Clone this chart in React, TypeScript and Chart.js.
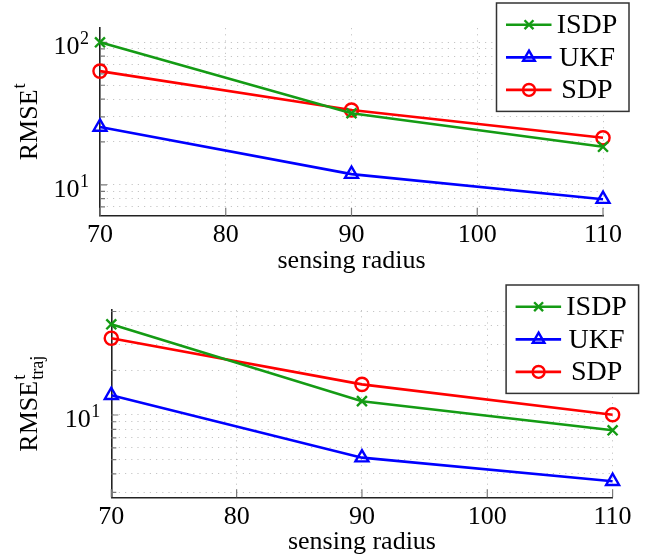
import React, { useEffect, useRef } from 'react';
import { Chart, registerables } from 'chart.js';

Chart.register(...registerables);

// ---------------- data ----------------
const radii = [70, 90, 110];
const xTicks = [70, 80, 90, 100, 110];
const seriesNames = ['ISDP', 'UKF', 'SDP'];

const rmseISDP = [100, 31.8, 18.5];
const rmseUKF = [25.5, 11.9, 7.94];
const rmseSDP = [62.8, 33.5, 21.4];

const trajISDP = [41.0, 12.4, 7.88];
const trajUKF = [13.6, 5.15, 3.57];
const trajSDP = [33.0, 16.1, 10.05];

const rmseYTicks = [7, 8, 9, 10, 20, 30, 40, 50, 60, 70, 80, 90, 100];
const trajYTicks = [3, 4, 5, 6, 7, 8, 9, 10, 20, 30, 40, 50];
const rmseYRange = [6.08, 126];
const trajYRange = [2.78, 51.2];

// ---------------- styles ----------------
const FONT = "'Liberation Serif', 'Times New Roman', Times, serif";
const COLORS = ['rgb(20,155,20)', 'rgb(0,0,255)', 'rgb(255,0,0)'];
const MARKERS = ['crossRot', 'triangle', 'circle'];
const MARKER_R = [7, 7.5, 6.6];
const GRID = 'rgba(150,150,150,0.55)';

type PanelCfg = {
  top: number;
  height: number;
  yAxisWidth: number;
  padTop: number;
  padRight: number;
  xAxisHeight: number;
  titlePadBottom: number;
  yTitleX: number;
  ySub: string;
  series: number[][];
  yTicks: number[];
  yRange: number[];
};

const panels: PanelCfg[] = [
  {
    top: 0, height: 279, yAxisWidth: 100, padTop: 28, padRight: 43, xAxisHeight: 63.3,
    titlePadBottom: 2, yTitleX: 36.5, ySub: '',
    series: [rmseISDP, rmseUKF, rmseSDP], yTicks: rmseYTicks, yRange: rmseYRange,
  },
  {
    top: 279, height: 279, yAxisWidth: 111.3, padTop: 31, padRight: 33.4, xAxisHeight: 60.7,
    titlePadBottom: 0, yTitleX: 36.5, ySub: 'traj',
    series: [trajISDP, trajUKF, trajSDP], yTicks: trajYTicks, yRange: trajYRange,
  },
];

function isDecade(v: number) {
  const l = Math.log10(v);
  return Math.abs(l - Math.round(l)) < 1e-9;
}

function drawMarker(ctx: CanvasRenderingContext2D, style: string, x: number, y: number, r: number) {
  ctx.beginPath();
  if (style === 'crossRot') {
    const o = Math.cos(Math.PI / 4) * r;
    ctx.moveTo(x - o, y - o); ctx.lineTo(x + o, y + o);
    ctx.moveTo(x + o, y - o); ctx.lineTo(x - o, y + o);
    ctx.stroke();
  } else if (style === 'triangle') {
    let rad = 0;
    ctx.moveTo(x + Math.sin(rad) * r, y - Math.cos(rad) * r);
    rad += (2 * Math.PI) / 3;
    ctx.lineTo(x + Math.sin(rad) * r, y - Math.cos(rad) * r);
    rad += (2 * Math.PI) / 3;
    ctx.lineTo(x + Math.sin(rad) * r, y - Math.cos(rad) * r);
    ctx.closePath();
    ctx.stroke();
  } else {
    ctx.arc(x, y, r, 0, Math.PI * 2);
    ctx.stroke();
  }
}

function buildConfig(p: PanelCfg): any {
  const datasets = seriesNames.map((name, i) => ({
    label: name,
    data: radii.map((x, j) => ({ x, y: p.series[i][j] })),
    borderColor: COLORS[i],
    backgroundColor: 'rgba(0,0,0,0)',
    borderWidth: 2.6,
    pointStyle: MARKERS[i],
    pointRadius: MARKER_R[i],
    pointBorderWidth: 2.4,
    pointBorderColor: COLORS[i],
    pointBackgroundColor: 'rgba(0,0,0,0)',
    tension: 0,
    fill: false,
    clip: false,
  }));

  const inwardTicks = {
    id: 'inwardTicks',
    beforeDatasetsDraw(chart: any) {
      const { ctx, chartArea, scales } = chart;
      const xs = scales.x;
      const ys = scales.y;
      ctx.save();
      ctx.strokeStyle = '#7a7a7a';
      ctx.lineWidth = 1.2;
      ctx.beginPath();
      for (const t of ys.ticks) {
        const py = ys.getPixelForValue(t.value);
        const len = isDecade(t.value) ? 7 : 5;
        ctx.moveTo(chartArea.left, py);
        ctx.lineTo(chartArea.left + len, py);
      }
      for (const t of xs.ticks) {
        const px = xs.getPixelForValue(t.value);
        ctx.moveTo(px, chartArea.bottom);
        ctx.lineTo(px, chartArea.bottom - 8);
      }
      ctx.stroke();
      ctx.restore();
    },
  };

  // decade labels 10^n drawn with a real superscript
  const yDecadeLabels = {
    id: 'yDecadeLabels',
    afterDraw(chart: any) {
      const { ctx, chartArea, scales } = chart;
      const ys = scales.y;
      ctx.save();
      ctx.fillStyle = '#000';
      ctx.textBaseline = 'alphabetic';
      ctx.textAlign = 'right';
      for (const t of ys.ticks) {
        if (!isDecade(t.value)) continue;
        const py = ys.getPixelForValue(t.value);
        const exp = String(Math.round(Math.log10(t.value)));
        const xr = chartArea.left - 11;
        ctx.font = `18px ${FONT}`;
        const we = ctx.measureText(exp).width;
        ctx.fillText(exp, xr, py + 2);
        ctx.font = `26px ${FONT}`;
        ctx.fillText('10', xr - we - 0.5, py + 12);
      }
      ctx.restore();
    },
  };

  const yTitle = {
    id: 'yTitle',
    afterDraw(chart: any) {
      const { ctx, chartArea } = chart;
      const size = 26;
      const small = size * 0.7;
      const cy = (chartArea.top + chartArea.bottom) / 2;
      ctx.save();
      ctx.font = `${size}px ${FONT}`;
      const wMain = ctx.measureText('RMSE').width;
      ctx.font = `${small}px ${FONT}`;
      const wSup = ctx.measureText('t').width;
      const wSub = p.ySub ? ctx.measureText(p.ySub).width : 0;
      const total = wMain + 1 + Math.max(wSup, wSub);
      ctx.translate(p.yTitleX, cy);
      ctx.rotate(-Math.PI / 2);
      ctx.fillStyle = '#000';
      ctx.textAlign = 'left';
      ctx.textBaseline = 'alphabetic';
      let u = -total / 2;
      ctx.font = `${size}px ${FONT}`;
      ctx.fillText('RMSE', u, 0);
      u += wMain + 1;
      ctx.font = `${small}px ${FONT}`;
      ctx.fillText('t', u, -size * 0.45);
      if (p.ySub) ctx.fillText(p.ySub, u, size * 0.25);
      ctx.restore();
    },
  };

  const legendBox = {
    id: 'legendBox',
    afterDraw(chart: any) {
      const { ctx, chartArea } = chart;
      const right = chartArea.right + 26;
      const top = chartArea.top - 25;
      const w = 132.5;
      const h = 108.4;
      const left = right - w;
      ctx.save();
      ctx.fillStyle = '#fff';
      ctx.fillRect(left, top, w, h);
      ctx.strokeStyle = '#333';
      ctx.lineWidth = 1.5;
      ctx.strokeRect(left, top, w, h);
      const rows = [21.7, 54.4, 86.9];
      chart.data.datasets.forEach((ds: any, i: number) => {
        const y = top + rows[i];
        ctx.strokeStyle = ds.borderColor;
        ctx.lineWidth = ds.borderWidth;
        ctx.beginPath();
        ctx.moveTo(left + 9.5, y);
        ctx.lineTo(left + 55, y);
        ctx.stroke();
        ctx.lineWidth = ds.pointBorderWidth;
        drawMarker(ctx, ds.pointStyle, left + 32.5, y, ds.pointRadius * 0.9);
        ctx.fillStyle = '#000';
        ctx.font = `28px ${FONT}`;
        ctx.textAlign = 'center';
        ctx.textBaseline = 'middle';
        ctx.fillText(ds.label, left + 90.5, y + 1);
      });
      ctx.restore();
    },
  };

  return {
    type: 'line',
    data: { datasets },
    plugins: [inwardTicks, yDecadeLabels, yTitle, legendBox],
    options: {
      responsive: false,
      animation: false,
      devicePixelRatio: 1,
      layout: { padding: { top: p.padTop, right: p.padRight, left: 0, bottom: 0 } },
      plugins: { legend: { display: false }, tooltip: { enabled: false }, title: { display: false } },
      scales: {
        x: {
          type: 'linear',
          min: 70,
          max: 110,
          afterBuildTicks: (s: any) => { s.ticks = xTicks.map((v) => ({ value: v })); },
          afterFit: (s: any) => { s.height = p.xAxisHeight; s.paddingLeft = 0; s.paddingRight = 0; },
          ticks: {
            callback: (v: any) => String(v),
            font: { family: FONT, size: 26 },
            color: '#000',
            padding: 4,
            maxRotation: 0,
            autoSkip: false,
          },
          grid: {
            color: (c: any) => (c.tick && c.tick.value === 70 ? 'rgba(0,0,0,0)' : GRID),
            lineWidth: 1,
            drawTicks: false,
          },
          border: { display: true, color: '#222', width: 1.6, dash: [1.2, 5] },
          title: {
            display: true,
            text: 'sensing radius',
            font: { family: FONT, size: 26 },
            color: '#000',
            padding: { top: 0, bottom: p.titlePadBottom },
          },
        },
        y: {
          type: 'logarithmic',
          min: p.yRange[0],
          max: p.yRange[1],
          afterBuildTicks: (s: any) => { s.ticks = p.yTicks.map((v) => ({ value: v, major: isDecade(v) })); },
          afterFit: (s: any) => { s.width = p.yAxisWidth; s.paddingTop = 0; s.paddingBottom = 0; },
          ticks: {
            callback: () => '',
            font: { family: FONT, size: 26 },
            color: '#000',
            padding: 9,
            autoSkip: false,
          },
          grid: { color: GRID, lineWidth: 1, drawTicks: false },
          border: { display: true, color: '#222', width: 1.6, dash: [1.2, 5] },
        },
      },
    },
  };
}

function Panel({ cfg }: { cfg: PanelCfg }) {
  const ref = useRef<HTMLCanvasElement>(null);
  useEffect(() => {
    const chart = new Chart(ref.current as HTMLCanvasElement, buildConfig(cfg));
    return () => chart.destroy();
  }, [cfg]);
  return (
    <canvas
      ref={ref}
      width={646}
      height={cfg.height}
      style={{ position: 'absolute', left: 0, top: cfg.top, width: 646, height: cfg.height, display: 'block' }}
    />
  );
}

export default function App() {
  return (
    <div style={{ position: 'absolute', left: 0, top: 0, width: 646, height: 558, background: '#fff', overflow: 'hidden' }}>
      {panels.map((p, i) => (
        <Panel key={i} cfg={p} />
      ))}
    </div>
  );
}
